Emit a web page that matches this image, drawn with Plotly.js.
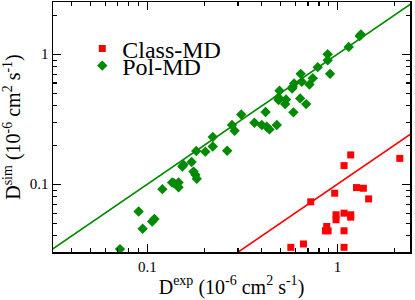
<!DOCTYPE html>
<html><head><meta charset="utf-8">
<script src="https://cdn.plot.ly/plotly-3.0.1.min.js"></script>
<style>html,body{margin:0;padding:0;background:#fff}#c{width:415px;height:300px}</style>
</head><body><div id="c"></div>
<script>
// Class-MD (red squares)
const classX = [0.569,0.663,0.724,0.968,1.084,1.175,2.13,1.26,1.37,1.46,0.984,0.984,1.084,1.175,1.175,0.879,0.865,0.894,1.084,1.084];
const classY = [0.0327,0.0347,0.0732,0.0853,0.139,0.168,0.158,0.0942,0.0931,0.0771,0.0582,0.0533,0.0599,0.0582,0.0558,0.0473,0.0438,0.0438,0.0438,0.0327];
// Pol-MD (green diamonds)
const polX = [1.33,1.31,1.147,0.889,0.889,0.915,0.788,0.742,0.713,0.641,0.65,0.592,0.582,0.578,0.637,0.685,0.587,0.496,0.49,0.537,0.531,0.49,0.48,0.419,0.40,0.425,0.439,0.366,0.312,0.279,0.288,0.263,0.221,0.221,0.202,0.181,0.171,0.155,0.153,0.175,0.179,0.182,0.146,0.146,0.135,0.138,0.120,0.109,0.106,0.090,0.0945,0.0718];
const polY = [1.416,1.38,1.138,1.0,0.899,0.706,0.795,0.654,0.585,0.706,0.614,0.596,0.561,0.545,0.457,0.413,0.357,0.523,0.465,0.449,0.413,0.444,0.285,0.359,0.285,0.277,0.264,0.297,0.344,0.285,0.258,0.181,0.231,0.195,0.178,0.180,0.148,0.141,0.137,0.125,0.118,0.110,0.103,0.0948,0.103,0.102,0.0916,0.054,0.0517,0.0617,0.0454,0.0317];
// reference lines
const polLineX = [0.03, 2.5];
const polLineY = [0.03, 2.5];
const classLineX = [0.3, 2.5];
const classLineY = [0.03, 0.25];
// ticks
const majorVals = [0.1, 1];
const majorText = ["0.1", "1"];
const minorVals = [0.04,0.05,0.06,0.07,0.08,0.09,0.2,0.3,0.4,0.5,0.6,0.7,0.8,0.9,2];

const SERIF = 'Liberation Serif';
const green = '#008a00', red = '#ff0000';
const traces = [
  {x: polLineX, y: polLineY, mode: 'lines', line: {color: green, width: 1.6}, showlegend: false, hoverinfo: 'skip'},
  {x: classLineX, y: classLineY, mode: 'lines', line: {color: red, width: 1.6}, showlegend: false, hoverinfo: 'skip'},
  {x: classX, y: classY, mode: 'markers', name: 'Class-MD', legend: 'legend', marker: {symbol: 'square', size: 7, color: red}},
  {x: polX, y: polY, mode: 'markers', name: 'Pol-MD', legend: 'legend2', marker: {symbol: 'diamond', size: 8, color: green}}
];
const axisCommon = {
  type: 'log', showgrid: false, zeroline: false, showline: true, linecolor: '#000', linewidth: 1.5,
  mirror: 'allticks', ticks: 'inside', ticklen: 8, tickwidth: 1.3, tickcolor: '#000',
  tickmode: 'array', tickvals: majorVals, ticktext: majorText,
  tickfont: {family: SERIF, size: 15, color: '#000'},
  minor: {tickmode: 'array', tickvals: minorVals, ticks: 'inside', ticklen: 4, tickwidth: 1.1, tickcolor: '#000', showgrid: false}
};
const legendCommon = {xanchor: 'left', yanchor: 'middle', bgcolor: 'rgba(0,0,0,0)',
  font: {family: SERIF, size: 24, color: '#000'}, itemwidth: 30};
const layout = {
  width: 415, height: 300,
  margin: {l: 53, r: 5, t: 2, b: 48},
  paper_bgcolor: '#fff', plot_bgcolor: '#fff',
  font: {family: SERIF, color: '#000'},
  xaxis: Object.assign({}, axisCommon, {range: [Math.log10(0.0319), Math.log10(2.41)],
    title: {text: 'D<sup>exp</sup> (10<sup>-6</sup> cm<sup>2</sup> s<sup>-1</sup>)', font: {family: SERIF, size: 20}, standoff: 6}}),
  yaxis: Object.assign({}, axisCommon, {range: [Math.log10(0.0301), Math.log10(2.52)],
    title: {text: 'D<sup>sim</sup> (10<sup>-6</sup> cm<sup>2</sup> s<sup>-1</sup>)', font: {family: SERIF, size: 20}, standoff: 4}}),
  legend: Object.assign({}, legendCommon, {x: 0.082, y: 0.812}),
  legend2: Object.assign({}, legendCommon, {x: 0.082, y: 0.744}),
  showlegend: true
};
Plotly.newPlot('c', traces, layout, {displayModeBar: false, staticPlot: true});
</script></body></html>
